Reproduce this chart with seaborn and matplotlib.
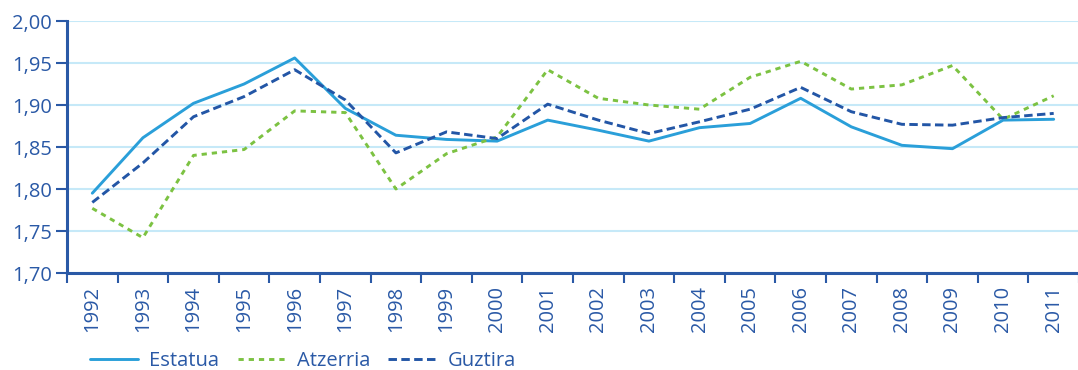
import matplotlib
matplotlib.use("Agg")
import matplotlib.pyplot as plt
import matplotlib.ticker as mticker
import seaborn as sns
import pandas as pd

years = [str(y) for y in range(1992, 2012)]
estatua = [1.795, 1.861, 1.902, 1.925, 1.956, 1.896, 1.864, 1.859, 1.857, 1.882,
           1.870, 1.857, 1.873, 1.878, 1.908, 1.874, 1.852, 1.848, 1.882, 1.883]
atzerria = [1.777, 1.742, 1.840, 1.847, 1.893, 1.891, 1.800, 1.842, 1.862, 1.942,
            1.908, 1.900, 1.895, 1.933, 1.952, 1.919, 1.924, 1.947, 1.883, 1.911]
guztira = [1.784, 1.831, 1.886, 1.910, 1.942, 1.906, 1.843, 1.868, 1.860, 1.901,
           1.882, 1.866, 1.880, 1.895, 1.921, 1.892, 1.877, 1.876, 1.885, 1.890]
series_names = ["Estatua", "Atzerria", "Guztira"]

text_col = "#2a59a6"
colors = {"Estatua": "#2a9fd9", "Atzerria": "#7cc242", "Guztira": "#2356a6"}
dashes = {"Estatua": "", "Atzerria": (1.8, 1.7), "Guztira": (2.9, 1.5)}

df = pd.DataFrame({
    "year": years * 3,
    "value": estatua + atzerria + guztira,
    "series": [s for s in series_names for _ in years],
})

sns.set_theme(style="white")
plt.rcParams["font.family"] = ["Open Sans", "DejaVu Sans"]

fig = plt.figure(figsize=(10.78, 3.70), dpi=100)
ax = fig.add_axes([67 / 1078, 1 - 273 / 370, (1079 - 67) / 1078, (273 - 21) / 370])

sns.lineplot(data=df, x="year", y="value", hue="series", style="series",
             palette=colors, dashes=dashes, linewidth=2.1, ax=ax,
             hue_order=series_names, style_order=series_names, sort=False)

ax.set_xlim(-0.5, len(years) - 0.5)
ax.set_ylim(1.70, 2.00)
ax.set_yticks([1.70, 1.75, 1.80, 1.85, 1.90, 1.95, 2.00])
ax.yaxis.set_major_formatter(mticker.FuncFormatter(lambda v, p: f"{v:.2f}".replace(".", ",")))
ax.grid(axis="y", color="#c6e9f8", linewidth=1.5)
ax.set_axisbelow(True)

for side in ["top", "right"]:
    ax.spines[side].set_visible(False)
for side in ["left", "bottom"]:
    ax.spines[side].set_color(text_col)
    ax.spines[side].set_linewidth(2.2)

ax.set_xticks(range(len(years)))
ax.set_xticklabels(years, rotation=90)
ax.set_xticks([i - 0.5 for i in range(len(years) + 1)], minor=True)
ax.tick_params(axis="x", which="major", length=0, pad=9, labelsize=14.5, labelcolor=text_col)
ax.tick_params(axis="x", which="minor", length=7, width=1.5, color=text_col, bottom=True)
ax.tick_params(axis="y", which="major", length=8, width=1.5, color=text_col, left=True,
               labelsize=14.5, labelcolor=text_col, pad=3)
ax.set_xlabel("")
ax.set_ylabel("")

leg = ax.legend(loc="center left", bbox_to_anchor=(82 / 1078, 1 - 361 / 370),
                bbox_transform=fig.transFigure, ncol=3, frameon=False,
                fontsize=14.5, handlelength=2.4, columnspacing=0.9, handletextpad=0.55,
                borderaxespad=0)
for t in leg.get_texts():
    t.set_color(text_col)

fig.savefig("out.png", dpi=100)
